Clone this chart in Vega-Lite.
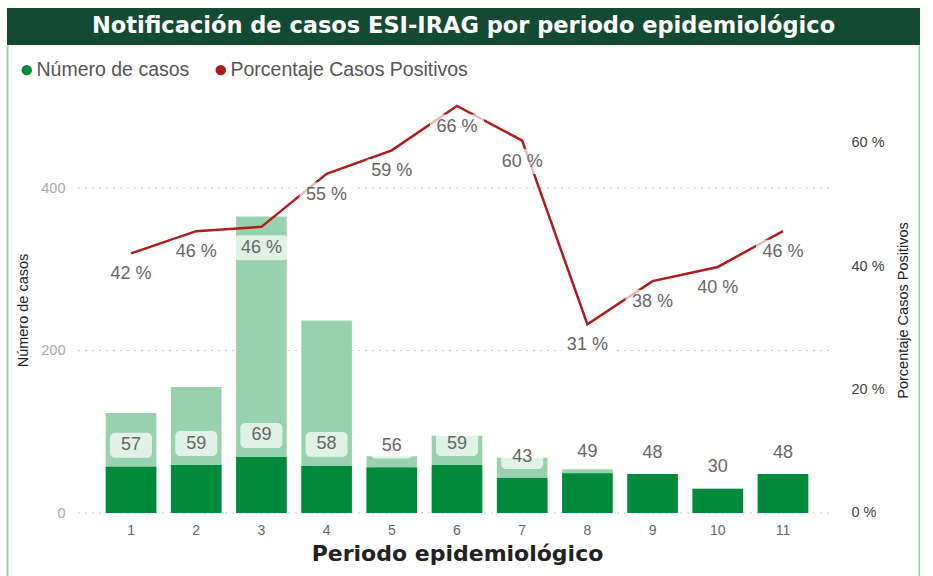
{
  "$schema": "https://vega.github.io/schema/vega-lite/v6.json",
  "padding": {"left": 7, "top": 8, "right": 0, "bottom": 0},
  "background": "white",
  "spacing": 0,
  "columns": 1,
  "resolve": {"scale": {"color": "independent"}, "legend": {"color": "independent"}},
  "config": {
    "view": {"stroke": null},
    "font": "Liberation Sans"
  },
  "concat": [
    {
      "width": 913,
      "height": 37,
      "view": {"fill": "#134a34", "stroke": null},
      "title": {
        "text": "Notificación de casos ESI-IRAG por periodo epidemiológico",
        "orient": "top",
        "anchor": "middle",
        "offset": -29,
        "color": "white",
        "font": "DejaVu Sans",
        "fontWeight": "bold",
        "fontSize": 22.5
      },
      "data": {"values": [{}]},
      "mark": {"type": "text", "text": ""},
      "encoding": {}
    },
    {
      "width": 912,
      "height": 535,
      "data": {
        "values": [
          {"periodo": "1", "total": 123, "casos": 57, "pct": 42.1},
          {"periodo": "2", "total": 155, "casos": 59, "pct": 45.7},
          {"periodo": "3", "total": 365, "casos": 69, "pct": 46.4},
          {"periodo": "4", "total": 237, "casos": 58, "pct": 55.0},
          {"periodo": "5", "total": 70, "casos": 56, "pct": 58.8},
          {"periodo": "6", "total": 95, "casos": 59, "pct": 66.0},
          {"periodo": "7", "total": 68, "casos": 43, "pct": 60.4},
          {"periodo": "8", "total": 54, "casos": 49, "pct": 30.6},
          {"periodo": "9", "total": 48, "casos": 48, "pct": 37.6},
          {"periodo": "10", "total": 30, "casos": 30, "pct": 39.9},
          {"periodo": "11", "total": 48, "casos": 48, "pct": 45.7}
        ]
      },
      "encoding": {
        "x": {
          "field": "periodo",
          "type": "ordinal",
          "sort": null,
          "scale": {
            "domain": ["1", "2", "3", "4", "5", "6", "7", "8", "9", "10", "11"],
            "range": [72, 828],
            "paddingInner": 0.224,
            "paddingOuter": 0.41
          },
          "axis": {
            "orient": "bottom",
            "offset": -67,
            "domain": false,
            "ticks": false,
            "grid": false,
            "labelAngle": 0,
            "labelColor": "#666",
            "labelFontSize": 14,
            "labelPadding": 10,
            "title": "Periodo epidemiológico",
            "titleFont": "DejaVu Sans",
            "titleFontWeight": "bold",
            "titleFontSize": 22,
            "titleColor": "#222",
            "titleX": 450,
            "titleY": 40,
            "titleAlign": "center",
            "titleBaseline": "middle"
          }
        }
      },
      "layer": [
        {
          "encoding": {
            "y": {
              "field": "casos",
              "type": "quantitative",
              "scale": {"domain": [-82.46, 576], "nice": false, "zero": false},
              "axis": {
                "orient": "left",
                "values": [0, 200, 400],
                "offset": 0,
                "domain": true,
                "domainColor": "#8fd3a9",
                "domainWidth": 2,
                "ticks": false,
                "labelPadding": -58,
                "labelColor": "#aaa",
                "labelFontSize": 14.5,
                "grid": false,
                "title": "Número de casos",
                "titleX": 16,
                "titleY": 265,
                "titleAngle": -90,
                "titleAlign": "center",
                "titleBaseline": "middle",
                "titleFontSize": 14.5,
                "titleFontWeight": "normal",
                "titleColor": "#222"
              }
            }
          },
          "layer": [
            {
              "data": {"values": [{"v": 0}, {"v": 200}, {"v": 400}]},
              "mark": {"type": "rule", "color": "#c8c8c8", "strokeDash": [2, 5], "strokeWidth": 1, "xOffset": -53, "x2Offset": 51},
              "encoding": {
                "x": {"datum": "1", "type": "ordinal"},
                "x2": {"datum": "11"},
                "y": {"field": "v", "type": "quantitative"}
              }
            },
            {
              "mark": {"type": "bar", "color": "#98d1ad"},
              "encoding": {
                "y": {"field": "total", "type": "quantitative"}
              }
            },
            {
              "mark": {"type": "bar"},
              "encoding": {
                "color": {
                  "datum": "Número de casos",
                  "scale": {
                    "domain": ["Número de casos", "Porcentaje Casos Positivos"],
                    "range": ["#008a3c", "#b01c1c"]
                  },
                  "legend": {
                    "orient": "none",
                    "legendX": 10,
                    "legendY": 15,
                    "direction": "horizontal",
                    "title": null,
                    "symbolType": "circle",
                    "symbolSize": 110,
                    "symbolStrokeWidth": 0,
                    "labelFontSize": 19.5,
                    "labelColor": "#555",
                    "labelFont": "Liberation Sans",
                    "labelLimit": 400,
                    "labelOffset": 0,
                    "columnPadding": 21,
                    "padding": 0
                  }
                }
              }
            },
            {
              "mark": {
                "type": "point",
                "shape": "M-0.76,-0.595 H0.76 A0.24,0.24 0 0 1 1,-0.355 V0.355 A0.24,0.24 0 0 1 0.76,0.595 H-0.76 A0.24,0.24 0 0 1 -1,0.355 V-0.355 A0.24,0.24 0 0 1 -0.76,-0.595 Z",
                "size": 1764,
                "filled": true,
                "color": "white",
                "opacity": 0.7,
                "strokeWidth": 0,
                "yOffset": -21.5
              }
            },
            {
              "mark": {
                "type": "text",
                "fontSize": 18,
                "color": "#666",
                "baseline": "middle",
                "dy": -21.5
              },
              "encoding": {"text": {"field": "casos", "type": "quantitative"}}
            }
          ]
        },
        {
          "encoding": {
            "y": {
              "field": "pct",
              "type": "quantitative",
              "scale": {"domain": [-10.865, 75.89], "nice": false, "zero": false},
              "axis": {
                "orient": "right",
                "values": [0, 20, 40, 60],
                "offset": 0,
                "domain": true,
                "domainColor": "#8fd3a9",
                "domainWidth": 2,
                "ticks": false,
                "labelPadding": -68,
                "labelAlign": "left",
                "labelExpr": "datum.value + ' %'",
                "labelColor": "#444",
                "labelFontSize": 14.5,
                "grid": false,
                "title": "Porcentaje Casos Positivos",
                "titleX": -16,
                "titleY": 265,
                "titleAngle": 270,
                "titleAlign": "center",
                "titleBaseline": "middle",
                "titleFontSize": 14.5,
                "titleFontWeight": "normal",
                "titleColor": "#222"
              }
            }
          },
          "layer": [
            {
              "mark": {"type": "line", "strokeWidth": 2.5},
              "encoding": {"color": {"datum": "Porcentaje Casos Positivos"}}
            },
            {
              "mark": {
                "type": "point",
                "shape": "M-0.815,-0.463 H0.815 A0.185,0.185 0 0 1 1,-0.278 V0.278 A0.185,0.185 0 0 1 0.815,0.463 H-0.815 A0.185,0.185 0 0 1 -1,0.278 V-0.278 A0.185,0.185 0 0 1 -0.815,-0.463 Z",
                "size": 2916,
                "filled": true,
                "color": "white",
                "opacity": 0.7,
                "strokeWidth": 0,
                "yOffset": 21
              }
            },
            {
              "mark": {
                "type": "text",
                "fontSize": 18,
                "color": "#666",
                "baseline": "middle",
                "dy": 21,
                "text": {"expr": "format(datum.pct, '.0f') + ' %'"}
              }
            }
          ]
        }
      ],
      "resolve": {"scale": {"y": "independent"}}
    }
  ]
}
